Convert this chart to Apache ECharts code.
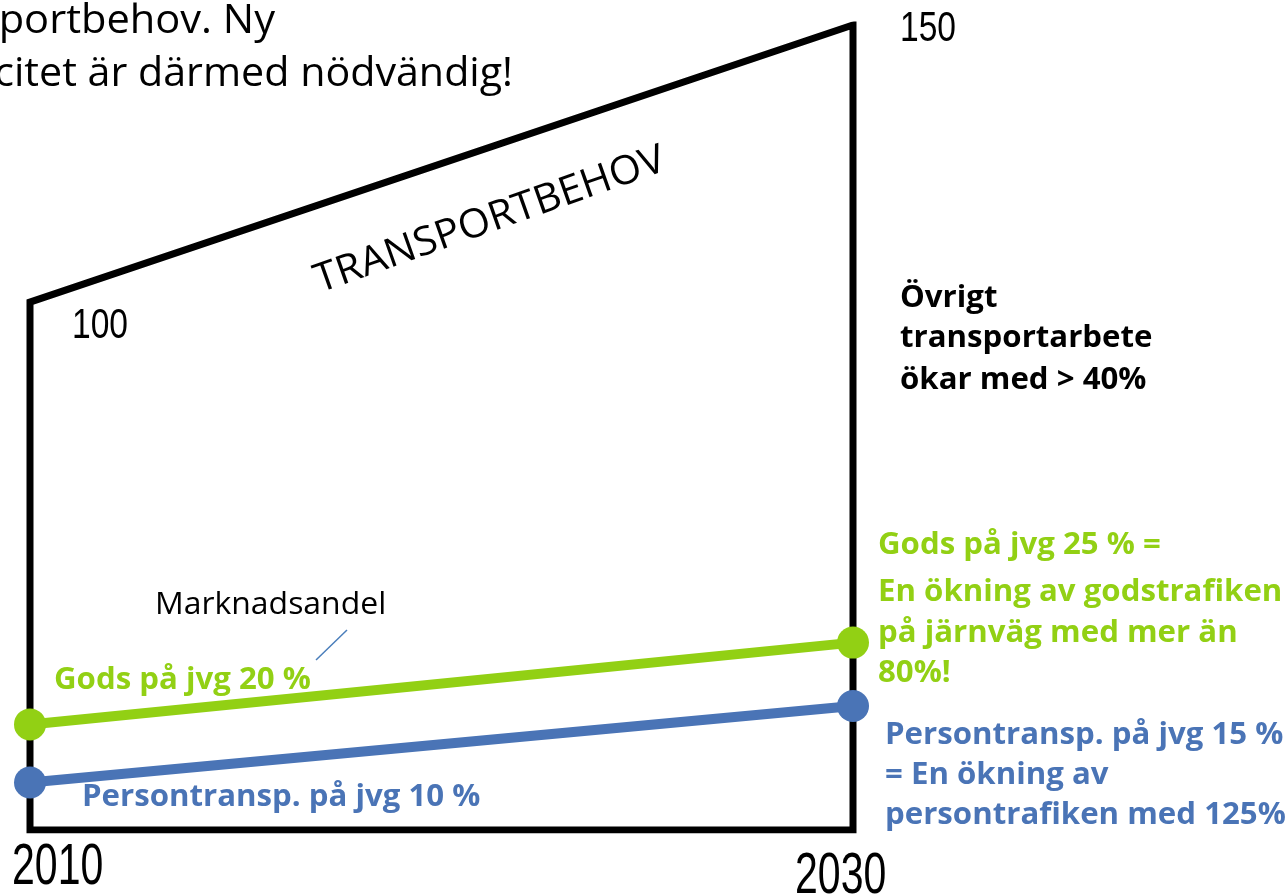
<!DOCTYPE html>
<html>
<head>
<meta charset="utf-8">
<script src="https://cdn.jsdelivr.net/npm/echarts@6/dist/echarts.min.js"></script>
<style>
  html, body { margin: 0; padding: 0; background: #fff; }
  #chart { width: 1287px; height: 896px; }
</style>
</head>
<body>
<div id="chart"></div>
<script>
// år på x-axeln
var years = [2010, 2030];
// transportbehov (index, 2010 = 100)
var transportbehov = [100, 152.5];
// marknadsandelar, ritade som i bilden
var gods = [20, 35.5];
var persontransp = [9, 23.5];

var GREEN = "#92D014";
var BLUE = "#4A74B6";

// text-hjälpare för graphic
function txt(text, x, y, o) {
  o = o || {};
  return {
    type: "text",
    x: x, y: y,
    rotation: o.rotation || 0,
    scaleX: o.scaleX || 1,
    originX: 0, originY: 0,
    z: 100,
    style: {
      text: text,
      fill: o.color || "#000",
      font: (o.weight || "normal") + " " + (o.size || 28) + "px " + (o.family || "'Open Sans'"),
      textAlign: o.align || "left",
      textVerticalAlign: "middle"
    }
  };
}

var chart = echarts.init(document.getElementById("chart"));

var outline = [
  [years[0], 0],
  [years[0], transportbehov[0]],
  [years[1], transportbehov[1]],
  [years[1], 0],
  [years[0], 0]
];

var bold = { weight: "bold", size: 30, scaleX: 1.04 };
function b(color) { return Object.assign({}, bold, { color: color }); }
var num = { family: "'Liberation Sans'", size: 42, scaleX: 0.8 };
var year = { family: "'Liberation Sans'", size: 57, scaleX: 0.72 };

var option = {
  animation: false,
  grid: { left: 30, right: 434, top: 25, bottom: 66 },
  xAxis: { type: "value", min: 2010, max: 2030, show: false },
  yAxis: { type: "value", min: 0, max: 152.5, show: false },
  series: [
    {
      name: "Transportbehov",
      type: "line",
      data: outline,
      symbol: "none",
      lineStyle: { color: "#000", width: 7, cap: "square", join: "miter" },
      z: 1
    },
    {
      name: "Gods på jvg",
      type: "line",
      data: [[years[0], gods[0]], [years[1], gods[1]]],
      symbol: "circle",
      symbolSize: 32,
      itemStyle: { color: GREEN },
      lineStyle: { color: GREEN, width: 10 },
      z: 3
    },
    {
      name: "Persontransp. på jvg",
      type: "line",
      data: [[years[0], persontransp[0]], [years[1], persontransp[1]]],
      symbol: "circle",
      symbolSize: 32,
      itemStyle: { color: BLUE },
      lineStyle: { color: BLUE, width: 10 },
      z: 3
    }
  ],
  graphic: [
    txt("portbehov. Ny", 275, 22, { size: 40, align: "right", scaleX: 1.04 }),
    txt("citet är därmed nödvändig!", 513, 75, { size: 40, align: "right", scaleX: 1.03 }),
    txt("TRANSPORTBEHOV", 316, 282, { size: 40, rotation: 19.5 * Math.PI / 180, scaleX: 1.03 }),
    txt("100", 72, 326, num),
    txt("150", 900, 29, num),
    txt("2010", 12, 868, year),
    txt("2030", 795, 877, year),
    txt("Övrigt", 900, 298, b("#000")),
    txt("transportarbete", 900, 338, b("#000")),
    txt("ökar med > 40%", 900, 380, b("#000")),
    txt("Gods på jvg 25 % =", 878, 545, b(GREEN)),
    txt("En ökning av godstrafiken", 878, 592, b(GREEN)),
    txt("på järnväg med mer än", 878, 633, b(GREEN)),
    txt("80%!", 878, 673, b(GREEN)),
    txt("Persontransp. på jvg 15 %", 885, 735, b(BLUE)),
    txt("= En ökning av", 885, 775, b(BLUE)),
    txt("persontrafiken med 125%", 885, 815, b(BLUE)),
    txt("Gods på jvg 20 %", 54, 680, b(GREEN)),
    txt("Persontransp. på jvg 10 %", 82, 797, b(BLUE)),
    txt("Marknadsandel", 155, 605, { size: 31, scaleX: 1.03 }),
    {
      type: "line",
      shape: { x1: 347, y1: 630, x2: 316, y2: 660 },
      style: { stroke: "#4A7EBB", lineWidth: 1.5 }
    }
  ]
};

chart.setOption(option);
window.onresize = chart.resize;
</script>
</body>
</html>
